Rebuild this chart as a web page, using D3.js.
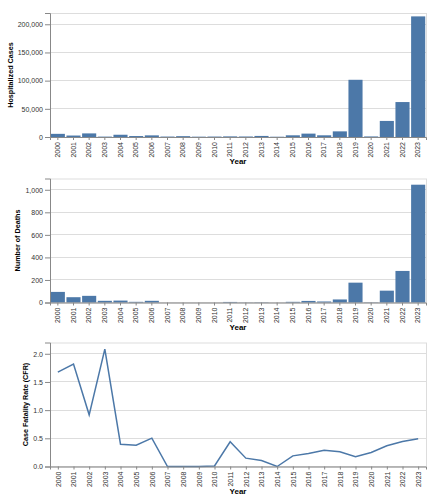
<!DOCTYPE html>
<html><head><meta charset="utf-8">
<script src="https://cdn.jsdelivr.net/npm/d3@7"></script>
<style>body{margin:0;background:#fff}svg{display:block}text{font-family:"Liberation Sans",Arial,sans-serif}</style>
</head><body><div id="chart"></div>
<script>
const years = ["2000","2001","2002","2003","2004","2005","2006","2007","2008","2009","2010","2011","2012","2013","2014","2015","2016","2017","2018","2019","2020","2021","2022","2023"];
const hospitalizedCases = [5600,2600,6400,700,4000,1700,2900,800,1500,600,800,1100,900,1900,500,3000,6000,3000,10000,101500,1000,28500,62000,214000];
const deaths = [94,47,59,15,17,6,15,0,0,0,0,5,1,2,0,6,14,9,27,176,2,105,280,1045];
const cfrValues = [1.675,1.817,0.917,2.083,0.396,0.379,0.503,0,0,0,0.01,0.438,0.148,0.107,0,0.189,0.231,0.29,0.26,0.172,0.249,0.367,0.444,0.491];

const W = 432, H = 494;
const svg = d3.select("#chart").append("svg").attr("width", W).attr("height", H);
const left = 50, pw = 376, ph = 124;
const color = "#4c78a8";

function panel(top, values, yMax, fmt, yTitle, kind) {
  const g = svg.append("g").attr("transform", `translate(${left},${top})`);
  const y = d3.scaleLinear().domain([0, yMax]).range([ph, 0]);
  let x;
  if (kind === "bar") x = d3.scaleBand().domain(years).range([0, pw]).paddingInner(0.1).paddingOuter(0.05);
  else x = d3.scalePoint().domain(years).range([0, pw]).padding(0.5);
  const ticks = y.ticks(5);
  g.append("g").selectAll("line").data(ticks).join("line")
    .attr("x1", 0).attr("x2", pw).attr("y1", d => y(d)).attr("y2", d => y(d))
    .attr("stroke", "#ddd").attr("stroke-width", 1).attr("shape-rendering","crispEdges");
  g.append("rect").attr("x", 0.5).attr("y", 0.5).attr("width", pw).attr("height", ph)
    .attr("fill", "none").attr("stroke", "#ddd");
  if (kind === "bar") {
    g.append("g").selectAll("rect").data(years).join("rect")
      .attr("x", d => x(d)).attr("width", x.bandwidth())
      .attr("y", (d, i) => y(values[i])).attr("height", (d, i) => ph - y(values[i]))
      .attr("fill", color);
  } else {
    const line = d3.line().x((d, i) => x(years[i])).y(d => y(d));
    g.append("path").datum(values).attr("d", line).attr("fill", "none")
      .attr("stroke", color).attr("stroke-width", 1.5);
  }
  const ya = g.append("g").call(d3.axisLeft(y).tickValues(ticks).tickFormat(fmt).tickSize(5).tickPadding(2));
  const xa = g.append("g").attr("transform", `translate(0,${ph})`).call(d3.axisBottom(x).tickSize(3).tickPadding(2));
  [ya, xa].forEach(a => {
    a.select(".domain").attr("stroke", "#888");
    a.selectAll(".tick line").attr("stroke", "#888");
    a.selectAll("text").attr("font-size", 7).attr("fill", "#333").attr("font-family", "Liberation Sans, Arial, sans-serif");
  });
  xa.selectAll("text").attr("transform", "rotate(-90)").attr("text-anchor", "end")
    .attr("x", -5).attr("y", 0).attr("dy", "0.32em");
  const labelW = d3.max(ya.selectAll("text").nodes(), n => n.getComputedTextLength());
  g.append("text").attr("transform", `translate(${-5 - 2 - labelW - 5},${ph / 2}) rotate(-90)`)
    .attr("text-anchor", "middle").attr("font-size", 7.2).attr("font-weight", "bold").attr("fill", "#000")
    .text(yTitle);
  g.append("text").attr("x", pw / 2).attr("y", ph + 27).attr("text-anchor", "middle")
    .attr("font-size", 8).attr("font-weight", "bold").attr("fill", "#000").text("Year");
}

panel(13, hospitalizedCases, 220000, d3.format(","), "Hospitalized Cases", "bar");
panel(178.5, deaths, 1100, d3.format(","), "Number of Deaths", "bar");
panel(342.5, cfrValues, 2.2, d3.format(".1f"), "Case Fatality Rate (CFR)", "line");
</script></body></html>
